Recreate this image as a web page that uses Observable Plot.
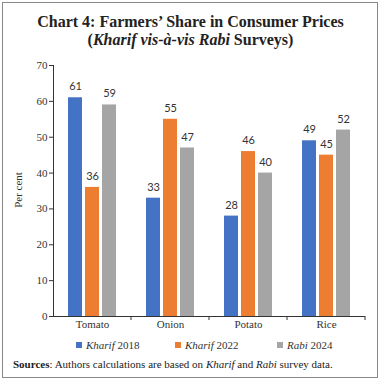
<!DOCTYPE html>
<html><head><meta charset="utf-8">
<script src="https://cdn.jsdelivr.net/npm/d3@7"></script>
<script src="https://cdn.jsdelivr.net/npm/@observablehq/plot@0.6"></script>
<style>
body{margin:0;background:#fff;width:381px;height:383px;position:relative;overflow:hidden;font-family:"Liberation Serif",serif;}
#frame{position:absolute;left:2px;top:2px;width:374px;height:374px;border:1.5px solid #888;}
#title{position:absolute;left:0;top:13px;width:381px;text-align:center;font-weight:bold;font-size:16px;line-height:18px;color:#222;}
#chart{position:absolute;left:0;top:50px;}
#ylabel{position:absolute;left:18px;top:190px;transform:translate(-50%,-50%) rotate(-90deg);font-size:11px;color:#333;white-space:nowrap;}
#legend{position:absolute;left:0;top:339px;width:381px;font-size:11px;color:#333;}
.li{position:absolute;top:0;white-space:nowrap;line-height:12px;}
.sw{display:inline-block;width:6px;height:6px;margin-right:4px;vertical-align:1px;}
#source{position:absolute;left:13px;top:358px;font-size:11px;color:#222;white-space:nowrap;}
</style></head><body>
<div id="frame"></div>
<div id="title">Chart 4: Farmers’ Share in Consumer Prices<br>(<i>Kharif vis-à-vis Rabi</i> Surveys)</div>
<div id="chart"></div>
<div id="ylabel">Per cent</div>
<div id="legend"></div>
<div id="source"><b>Sources</b>: Authors calculations are based on <i>Kharif</i> and <i>Rabi</i> survey data.</div>
<script>
const categories = ["Tomato", "Onion", "Potato", "Rice"];
const series = ["Kharif 2018", "Kharif 2022", "Rabi 2024"];
const kharif2018 = [61, 33, 28, 49];
const kharif2022 = [36, 55, 46, 45];
const rabi2024 = [59, 47, 40, 52];
const colors = ["#4472C4", "#ED7D31", "#A5A5A5"];
const yTicks = [0, 10, 20, 30, 40, 50, 60, 70];

const seriesValues = [kharif2018, kharif2022, rabi2024];
const data = [];
categories.forEach((c, i) => series.forEach((s, j) => data.push({cat: c, series: s, value: seriesValues[j][i]})));

const chart = Plot.plot({
  width: 381, height: 288,
  marginTop: 15, marginBottom: 22, marginLeft: 52, marginRight: 15,
  style: {fontFamily: "Liberation Serif", fontSize: "11px", color: "#333", background: "transparent"},
  fx: {domain: categories, padding: 0, label: null, tickSize: 0, tickPadding: 4, axis: "bottom"},
  x: {domain: series, paddingInner: 0.2, paddingOuter: 0.843, axis: null},
  y: {domain: [0, 70], ticks: yTicks, tickSize: 4, tickPadding: 2, line: true, label: null},
  color: {domain: series, range: colors},
  marks: [
    Plot.barY(data, {fx: "cat", x: "series", y: "value", fill: "series"}),
    Plot.text(data, {fx: "cat", x: "series", y: "value", text: d => String(d.value), dy: -11, fontFamily: "Lato", fontSize: 11, fill: "#333"}),
    Plot.ruleY([0], {stroke: "#333"})
  ]
});
document.getElementById("chart").appendChild(chart);

// category divider ticks below the axis
const fx = chart.scale("fx"), ys = chart.scale("y");
const svg = d3.select(chart.tagName.toLowerCase() === "svg" ? chart : chart.querySelector("svg"));
const y0 = ys.apply(0);
categories.forEach(c => {
  const xr = fx.apply(c) + fx.bandwidth;
  svg.append("line").attr("x1", xr).attr("x2", xr).attr("y1", y0).attr("y2", y0 + 4).attr("stroke", "#333");
});

// legend
const legend = document.getElementById("legend");
const lx = [76, 175, 277];
series.forEach((s, j) => {
  const [w, yr] = s.split(" ");
  const el = document.createElement("div");
  el.className = "li";
  el.style.left = lx[j] + "px";
  el.innerHTML = `<span class="sw" style="background:${colors[j]}"></span><i>${w}</i> ${yr}`;
  legend.appendChild(el);
});
</script>
</body></html>
